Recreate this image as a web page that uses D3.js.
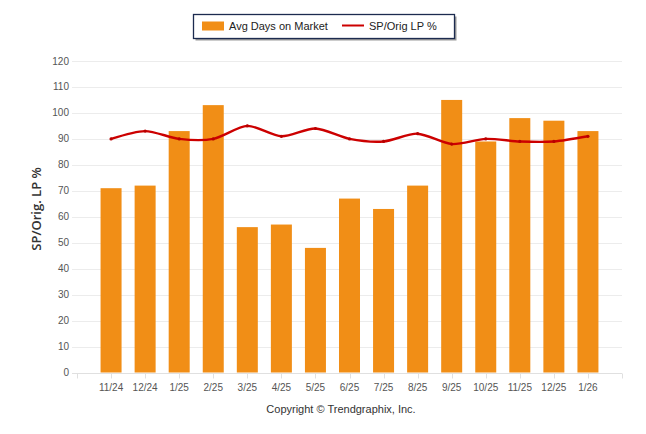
<!DOCTYPE html>
<html>
<head>
<meta charset="utf-8">
<script src="https://cdn.jsdelivr.net/npm/d3@7"></script>
<style>
  body { margin: 0; background: #fff; }
  svg { display: block; font-family: "Liberation Sans", Arial, sans-serif; }
</style>
</head>
<body>
<div id="chart"></div>
<script>
const months = ["11/24", "12/24", "1/25", "2/25", "3/25", "4/25", "5/25", "6/25",
  "7/25", "8/25", "9/25", "10/25", "11/25", "12/25", "1/26"];
const avgDays = [71, 72, 93, 103, 56, 57, 48, 67, 63, 72, 105, 89, 98, 97, 93];
const spOrig = [90, 93, 90, 90, 95, 91, 94, 90, 89, 92, 88, 90, 89, 89, 91];
const yTicks = d3.range(0, 121, 10);

const width = 646;
const height = 434;

const svg = d3.select("#chart").append("svg")
  .attr("width", width)
  .attr("height", height);

// index scale: one empty slot each side, like the original axis
const x = d3.scaleLinear().domain([-1, months.length]).range([77, 622]);
const y = d3.scaleLinear().domain([0, 120]).range([372.5, 61]);

// grid lines
svg.append("g")
  .selectAll("line")
  .data(yTicks.filter(d => d > 0))
  .enter()
  .append("line")
  .attr("x1", 72)
  .attr("x2", 622)
  .attr("y1", d => Math.round(y(d)) + 0.5)
  .attr("y2", d => Math.round(y(d)) + 0.5)
  .attr("stroke", "#ececec")
  .attr("stroke-width", 1);

// y axis labels
svg.append("g")
  .selectAll("text")
  .data(yTicks)
  .enter()
  .append("text")
  .attr("x", 69)
  .attr("y", d => y(d) + 3.5)
  .attr("text-anchor", "end")
  .attr("font-size", "10px")
  .attr("fill", "#555")
  .text(d => d);

// y axis title
svg.append("text")
  .attr("transform", "translate(41,209) rotate(-90)")
  .attr("text-anchor", "middle")
  .attr("font-family", "'Open Sans', sans-serif")
  .attr("font-weight", "600")
  .attr("font-size", "13px")
  .attr("fill", "#333")
  .text("SP/Orig. LP %");

// bars
const barW = 21;
svg.append("g")
  .selectAll("rect")
  .data(avgDays)
  .enter()
  .append("rect")
  .attr("x", (d, i) => x(i) - barW / 2)
  .attr("y", d => y(d))
  .attr("width", barW)
  .attr("height", d => y(0) - y(d))
  .attr("fill", "#f18e16");

// x axis
const xAxis = svg.append("g")
  .attr("transform", `translate(0,${Math.round(y(0)) + 0.5})`);
xAxis.append("line")
  .attr("x1", 72)
  .attr("x2", 622)
  .attr("stroke", "#e0e0e0");
xAxis.selectAll(".tick")
  .data(d3.range(-1, months.length + 1))
  .enter()
  .append("line")
  .attr("x1", d => Math.round(x(d)) + 0.5)
  .attr("x2", d => Math.round(x(d)) + 0.5)
  .attr("y1", 0)
  .attr("y2", 5)
  .attr("stroke", "#e0e0e0");
xAxis.selectAll("text")
  .data(months)
  .enter()
  .append("text")
  .attr("x", (d, i) => x(i))
  .attr("y", 17)
  .attr("text-anchor", "middle")
  .attr("font-size", "10px")
  .attr("fill", "#555")
  .text(d => d);

// SP/Orig line
const line = d3.line()
  .x((d, i) => x(i))
  .y(d => y(d))
  .curve(d3.curveCardinal.tension(0.2));

svg.append("path")
  .datum(spOrig)
  .attr("d", line)
  .attr("fill", "none")
  .attr("stroke", "#cc0000")
  .attr("stroke-width", 2.4);

svg.append("g")
  .selectAll("circle")
  .data(spOrig)
  .enter()
  .append("circle")
  .attr("cx", (d, i) => x(i))
  .attr("cy", d => y(d))
  .attr("r", 1.6)
  .attr("fill", "#b80000");

// legend
const legend = svg.append("g");
legend.append("rect")
  .attr("x", 195.5).attr("y", 16.5)
  .attr("width", 261).attr("height", 24)
  .attr("fill", "#999");
legend.append("rect")
  .attr("x", 193.5).attr("y", 14.5)
  .attr("width", 261).attr("height", 24)
  .attr("fill", "#fff")
  .attr("stroke", "#1c2b4f")
  .attr("stroke-width", 1.3);
legend.append("rect")
  .attr("x", 202).attr("y", 21.5)
  .attr("width", 22).attr("height", 9)
  .attr("fill", "#f18e16");
legend.append("text")
  .attr("x", 229).attr("y", 30)
  .attr("font-size", "11px")
  .attr("fill", "#222")
  .text("Avg Days on Market");
legend.append("line")
  .attr("x1", 342).attr("x2", 364)
  .attr("y1", 25.5).attr("y2", 25.5)
  .attr("stroke", "#cc0000")
  .attr("stroke-width", 2);
legend.append("text")
  .attr("x", 369).attr("y", 30)
  .attr("font-size", "11px")
  .attr("fill", "#222")
  .text("SP/Orig LP %");

// copyright
svg.append("text")
  .attr("x", 341).attr("y", 413)
  .attr("text-anchor", "middle")
  .attr("font-size", "11px")
  .attr("fill", "#333")
  .text("Copyright \u00A9 Trendgraphix, Inc.");
</script>
</body>
</html>
